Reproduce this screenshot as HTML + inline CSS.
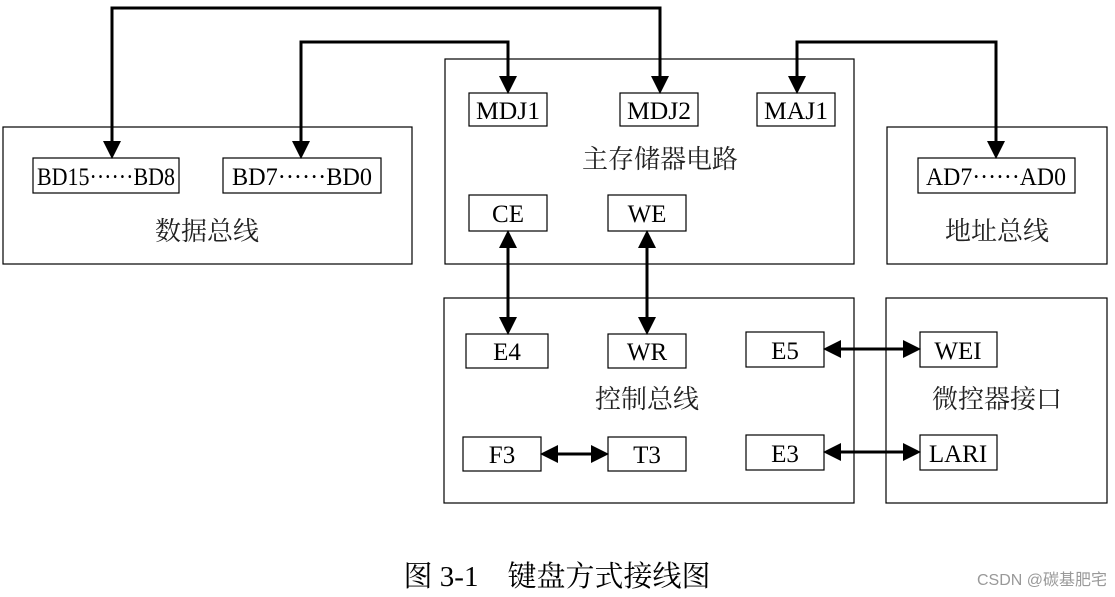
<!DOCTYPE html>
<html><head><meta charset="utf-8"><style>body{margin:0;background:#fff}svg{display:block}</style></head><body>
<svg width="1115" height="597" xmlns="http://www.w3.org/2000/svg">
<defs><marker id="a" markerWidth="6" markerHeight="6" refX="5" refY="3" orient="auto-start-reverse" markerUnits="strokeWidth"><path d="M0,0 L6,3 L0,6 z" fill="#000"/></marker></defs>
<g fill="none" stroke="#000" stroke-width="1.2">
<rect x="3" y="127" width="409" height="137"/>
<rect x="445" y="59" width="409" height="205"/>
<rect x="887" y="127" width="220" height="137"/>
<rect x="444" y="298" width="410" height="205"/>
<rect x="886" y="298" width="221" height="205"/>
<rect x="33" y="158" width="146" height="35"/>
<rect x="223" y="158" width="158" height="35"/>
<rect x="469" y="93" width="78" height="33"/>
<rect x="620" y="93" width="78" height="33"/>
<rect x="757" y="93" width="78" height="33"/>
<rect x="918" y="158" width="157" height="35"/>
<rect x="469" y="195" width="78" height="36"/>
<rect x="608" y="195" width="78" height="36"/>
<rect x="466" y="334" width="82" height="34"/>
<rect x="608" y="334" width="78" height="34"/>
<rect x="746" y="332" width="78" height="35"/>
<rect x="920" y="332" width="77" height="35"/>
<rect x="463" y="437" width="78" height="34"/>
<rect x="608" y="437" width="78" height="34"/>
<rect x="746" y="435" width="78" height="35"/>
<rect x="920" y="435" width="77" height="35"/>
</g>
<g fill="none" stroke="#000" stroke-width="3">
<path d="M112,156 V8 H660 V91" marker-start="url(#a)" marker-end="url(#a)"/>
<path d="M301,156 V42 H508 V91" marker-start="url(#a)" marker-end="url(#a)"/>
<path d="M797,91 V42 H996 V156" marker-start="url(#a)" marker-end="url(#a)"/>
<path d="M508,233 V332" marker-start="url(#a)" marker-end="url(#a)"/>
<path d="M647,233 V332" marker-start="url(#a)" marker-end="url(#a)"/>
<path d="M826,349 H918" marker-start="url(#a)" marker-end="url(#a)"/>
<path d="M826,452 H918" marker-start="url(#a)" marker-end="url(#a)"/>
<path d="M543,454 H606" marker-start="url(#a)" marker-end="url(#a)"/>
</g>
<g font-family="Liberation Serif, serif" font-size="25" text-anchor="middle" fill="#000" lengthAdjust="spacingAndGlyphs">
<text x="106" y="185" textLength="138" lengthAdjust="spacingAndGlyphs">BD15······BD8</text>
<text x="302" y="185" textLength="140" lengthAdjust="spacingAndGlyphs">BD7······BD0</text>
<text x="508" y="119" textLength="64" lengthAdjust="spacingAndGlyphs">MDJ1</text>
<text x="659" y="119" textLength="64" lengthAdjust="spacingAndGlyphs">MDJ2</text>
<text x="796" y="119" textLength="64" lengthAdjust="spacingAndGlyphs">MAJ1</text>
<text x="996" y="185" textLength="140" lengthAdjust="spacingAndGlyphs">AD7······AD0</text>
<text x="508" y="222">CE</text>
<text x="647" y="222">WE</text>
<text x="507" y="360">E4</text>
<text x="647" y="360">WR</text>
<text x="785" y="359">E5</text>
<text x="958" y="359">WEI</text>
<text x="502" y="463">F3</text>
<text x="647" y="463">T3</text>
<text x="785" y="462">E3</text>
<text x="958" y="462">LARI</text>
</g>
<g font-family="Liberation Serif, 'Noto Serif CJK SC', serif" font-size="26" text-anchor="middle" fill="#222">
<text x="660" y="168">主存储器电路</text>
<text x="207" y="240">数据总线</text>
<text x="997" y="240">地址总线</text>
<text x="647" y="408">控制总线</text>
<text x="997" y="408">微控器接口</text>
</g>
<text x="557" y="586" font-family="Liberation Serif, 'Noto Serif CJK SC', serif" font-size="29" text-anchor="middle">图 3-1　键盘方式接线图</text>
<text x="1042" y="585" font-family="Liberation Sans, 'Noto Sans CJK SC', sans-serif" font-size="16" text-anchor="middle" fill="#999">CSDN @碳基肥宅</text>
</svg>
</body></html>
